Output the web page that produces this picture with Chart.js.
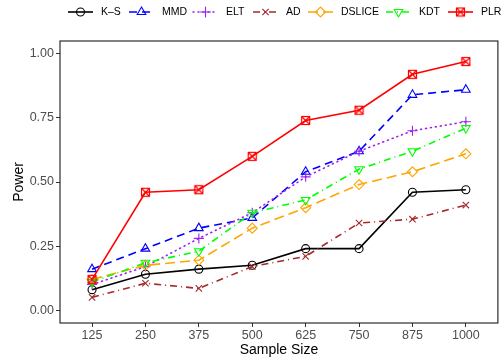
<!DOCTYPE html>
<html lang="en">
<head>
<meta charset="UTF-8">
<title>Power vs Sample Size</title>
<script src="https://cdn.jsdelivr.net/npm/chart.js"></script>
<style>
  html, body { margin: 0; padding: 0; background: #fff; }
  #wrap { width: 504px; height: 364px; }
</style>
</head>
<body>
<div id="wrap"><canvas id="power-chart" width="504" height="364"></canvas></div>
<script>
// data
const sampleSizes = [125, 250, 375, 500, 625, 750, 875, 1000];
const yTicks = [0, 0.25, 0.5, 0.75, 1];

const ks     = [0.08, 0.14, 0.16, 0.175, 0.24, 0.24, 0.46, 0.47];
const mmd    = [0.16, 0.24, 0.32, 0.36, 0.54, 0.62, 0.84, 0.86];
const elt    = [0.10, 0.17, 0.28, 0.38, 0.52, 0.62, 0.70, 0.735];
const ad     = [0.05, 0.105, 0.085, 0.17, 0.21, 0.34, 0.355, 0.41];
const dslice = [0.12, 0.175, 0.195, 0.32, 0.40, 0.49, 0.54, 0.61];
const kdt    = [0.11, 0.185, 0.23, 0.38, 0.43, 0.55, 0.62, 0.71];
const plr    = [0.12, 0.46, 0.47, 0.60, 0.74, 0.78, 0.92, 0.97];

// boxed x marker (pch 7 style)
function boxX(color) {
  const c = document.createElement('canvas');
  c.width = 11; c.height = 11;
  const g = c.getContext('2d');
  g.strokeStyle = color;
  g.lineWidth = 1.2;
  g.strokeRect(1.5, 1.5, 8, 8);
  g.beginPath();
  g.moveTo(1.5, 1.5); g.lineTo(9.5, 9.5);
  g.moveTo(9.5, 1.5); g.lineTo(1.5, 9.5);
  g.stroke();
  return c;
}

function series(label, values, color, dash, style, extra) {
  return Object.assign({
    label: label,
    data: values.map((v, i) => ({ x: sampleSizes[i], y: v })),
    borderColor: color,
    backgroundColor: 'rgba(0,0,0,0)',
    pointBorderColor: color,
    pointBackgroundColor: 'rgba(0,0,0,0)',
    borderWidth: 1.6,
    borderDash: dash,
    pointStyle: style,
    pointRadius: 4,
    pointBorderWidth: 1.1,
    tension: 0
  }, extra || {});
}

const datasets = [
  series('K\u2013S', ks, '#000000', [], 'circle', { order: 7 }),
  series('MMD', mmd, '#0000FF', [8, 5], 'triangle', { pointRadius: 5, order: 6 }),
  series('ELT', elt, '#A020F0', [1, 4], 'cross', { pointRadius: 5, borderCapStyle: 'round', order: 5 }),
  series('AD', ad, '#A52A2A', [7, 4, 1, 4], 'crossRot', { pointRadius: 4.5, order: 4 }),
  series('DSLICE', dslice, '#FFA500', [10, 5], 'rectRot', { pointRadius: 5, order: 3 }),
  series('KDT', kdt, '#00FF00', [7, 4, 1, 4], 'triangle', { pointRadius: 5, pointRotation: 180, order: 2 }),
  series('PLR', plr, '#FF0000', [], boxX('#FF0000'), { order: 1 })
];

// legend across the top, key line + marker + label
const keyStarts = [68, 129, 193, 253, 308, 386, 448];
const topLegend = {
  id: 'topLegend',
  afterDraw(chart) {
    const ctx = chart.ctx;
    const y = 12;
    ctx.save();
    ctx.font = '10.5px "Liberation Sans", Arial, sans-serif';
    ctx.textBaseline = 'middle';
    chart.data.datasets.forEach((ds, i) => {
      const x = keyStarts[i];
      const keyW = 25;
      ctx.strokeStyle = ds.borderColor;
      ctx.lineWidth = ds.borderWidth;
      ctx.lineCap = ds.borderCapStyle || 'butt';
      ctx.setLineDash(ds.borderDash);
      ctx.beginPath();
      ctx.moveTo(x, y);
      ctx.lineTo(x + keyW, y);
      ctx.stroke();
      ctx.setLineDash([]);
      ctx.lineWidth = ds.pointBorderWidth;
      ctx.fillStyle = 'rgba(0,0,0,0)';
      Chart.helpers.drawPoint(ctx, {
        pointStyle: ds.pointStyle,
        radius: ds.pointRadius,
        rotation: ds.pointRotation || 0,
        borderWidth: ds.pointBorderWidth
      }, x + keyW / 2, y);
      ctx.fillStyle = '#000';
      ctx.fillText(ds.label, x + 33, y);
    });
    ctx.restore();
  }
};

// full box round the panel
const panelBox = {
  id: 'panelBox',
  afterDraw(chart) {
    const a = chart.chartArea;
    const ctx = chart.ctx;
    ctx.save();
    ctx.strokeStyle = '#1a1a1a';
    ctx.lineWidth = 1.1;
    ctx.strokeRect(a.left, a.top, a.right - a.left, a.bottom - a.top);
    ctx.restore();
  }
};

new Chart(document.getElementById('power-chart').getContext('2d'), {
  type: 'line',
  data: { datasets: datasets },
  plugins: [topLegend, panelBox],
  options: {
    responsive: false,
    animation: false,
    devicePixelRatio: 1,
    layout: { padding: { top: 41, right: 2, left: 0, bottom: 0 } },
    plugins: { legend: { display: false }, tooltip: { enabled: false } },
    scales: {
      x: {
        type: 'linear',
        min: 50,
        max: 1075,
        afterBuildTicks: s => { s.ticks = sampleSizes.map(v => ({ value: v })); },
        afterFit: s => { s.height = 41; },
        grid: { drawOnChartArea: false, drawTicks: true, tickLength: 4, color: '#333333' },
        border: { display: false },
        ticks: {
          padding: 1,
          color: '#4D4D4D',
          font: { family: '"Liberation Sans", Arial, sans-serif', size: 12.5 },
          maxRotation: 0,
          callback: v => String(v)
        },
        title: {
          display: true,
          text: 'Sample Size',
          color: '#000',
          font: { family: '"Liberation Sans", Arial, sans-serif', size: 14 },
          padding: { top: 0, bottom: 5 }
        }
      },
      y: {
        min: -0.05,
        max: 1.05,
        afterBuildTicks: s => { s.ticks = yTicks.map(v => ({ value: v })); },
        afterFit: s => { s.width = 60; },
        grid: { drawOnChartArea: false, drawTicks: true, tickLength: 4, color: '#333333' },
        border: { display: false },
        ticks: {
          padding: 2,
          color: '#4D4D4D',
          font: { family: '"Liberation Sans", Arial, sans-serif', size: 12.5 },
          callback: v => v.toFixed(2)
        },
        title: {
          display: true,
          text: 'Power',
          color: '#000',
          font: { family: '"Liberation Sans", Arial, sans-serif', size: 14 },
          padding: { top: 11, bottom: 0 }
        }
      }
    }
  }
});
</script>
</body>
</html>
